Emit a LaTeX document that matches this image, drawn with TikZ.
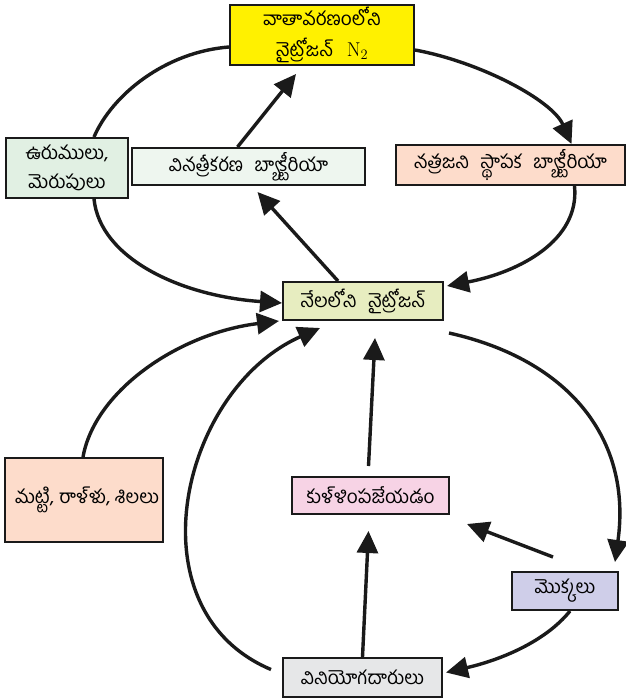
\documentclass[tikz,border=0pt]{standalone}
\usepackage{fontspec}
\newfontfamily\tel[Script=Telugu]{Hind Guntur}
\usetikzlibrary{arrows.meta}
\definecolor{cYellow}{HTML}{FFF100}
\definecolor{cGreen}{HTML}{E1F0E3}
\definecolor{cDenit}{HTML}{EEF6EF}
\definecolor{cPeach}{HTML}{FDDCCB}
\definecolor{cSoil}{HTML}{E7EDC0}
\definecolor{cPink}{HTML}{F7D3E5}
\definecolor{cLav}{HTML}{CFCEE9}
\definecolor{cGrey}{HTML}{E6E7E8}
\definecolor{cLine}{HTML}{1A1A1A}
\begin{document}
\begin{tikzpicture}[x=1pt,y=-1pt,
  box/.style={draw=cLine, line width=2pt, inner sep=0pt, align=center,
    font=\tel\fontsize{19}{29}\selectfont},
  flow/.style={draw=cLine, line width=3.4pt, -{Triangle[length=22pt,width=21pt]}},
  link/.style={draw=cLine, line width=3.4pt}]
\useasboundingbox (0,0) rectangle (626,699);
\fill[white] (0,0) rectangle (626,699);

\node[box, fill=cYellow, minimum width=184pt, minimum height=60pt,
  font=\tel\fontsize{19}{31}\selectfont] (atm) at (322,35)
  {వాతావరణంలోని\\నైట్రోజన్\hspace{0.7em}{\fontsize{20}{20}\selectfont$\mathrm{N}_2$}};
\node[box, fill=cGreen, minimum width=122pt, minimum height=60pt] (light) at (67,168)
  {ఉరుములు,\\మెరుపులు};
\node[box, fill=cDenit, minimum width=233pt, minimum height=37pt] (denit) at (248.5,166.5)
  {వినత్రీకరణ\hspace{0.6em}బ్యాక్టీరియా};
\node[box, fill=cPeach, minimum width=229pt, minimum height=40pt] (fix) at (510.5,165)
  {నత్రజని\hspace{0.6em}స్థాపక\hspace{0.6em}బ్యాక్టీరియా};
\node[box, fill=cSoil, minimum width=160pt, minimum height=38pt] (soil) at (363,301)
  {నేలలోని\hspace{0.6em}నైట్రోజన్};
\node[box, fill=cPeach, minimum width=158pt, minimum height=84pt] (rocks) at (84,500)
  {\hspace{6pt}మట్టి, రాళ్ళు, శిలలు};
\node[box, fill=cPink, minimum width=157pt, minimum height=37pt] (decomp) at (370.5,495.5)
  {కుళ్ళింపజేయడం};
\node[box, fill=cLav, minimum width=106pt, minimum height=38pt] (plants) at (565,591)
  {మొక్కలు};
\node[box, fill=cGrey, minimum width=159pt, minimum height=39pt] (cons) at (362.5,677.5)
  {వినియోగదారులు};

% upper cycle
\draw[link] ([xshift=27pt]light.north) .. controls (112,95) and (165,52) .. ([yshift=-12pt]atm.west);
\draw[flow] ([yshift=-15pt]atm.east) .. controls (480,62) and (552,100) .. ([xshift=61pt]fix.north);
\draw[flow] ([xshift=64pt]fix.south) .. controls (580,240) and (520,272) .. ([xshift=3pt,yshift=-5pt]soil.north east);
\draw[flow] ([xshift=27pt]light.south) .. controls (100,258) and (180,296) .. ([yshift=-2pt]soil.west);
\draw[flow] ([xshift=-11pt]denit.north) -- ([xshift=-26pt,yshift=-8pt]atm.south);
\draw[flow] ([xshift=-25pt]soil.north) -- ([xshift=9pt,yshift=-6pt]denit.south);

% lower part
\draw[flow] ([xshift=-1pt]rocks.north) .. controls (95,390) and (180,333) .. ([xshift=-3pt]soil.south west);
\draw[flow] ([xshift=-11pt,yshift=8pt]cons.west) .. controls (130,610) and (180,390) .. ([xshift=-43pt,yshift=-7pt]soil.south);
\draw[flow] ([xshift=-2pt,yshift=10pt]decomp.north) -- ([xshift=12pt,yshift=-17pt]soil.south);
\draw[flow] ([xshift=5pt,yshift=-12pt]soil.south east) .. controls (570,360) and (632,440) .. ([xshift=50pt,yshift=9pt]plants.north);
\draw[flow] ([xshift=-12pt,yshift=14pt]plants.north) -- ([xshift=17pt,yshift=-9pt]decomp.south east);
\draw[flow] (cons.north) -- ([xshift=-2pt,yshift=-16pt]decomp.south);
\draw[flow] ([xshift=5pt]plants.south) .. controls (545,642) and (500,660) .. ([xshift=3pt,yshift=5pt]cons.east);
\end{tikzpicture}
\end{document}
